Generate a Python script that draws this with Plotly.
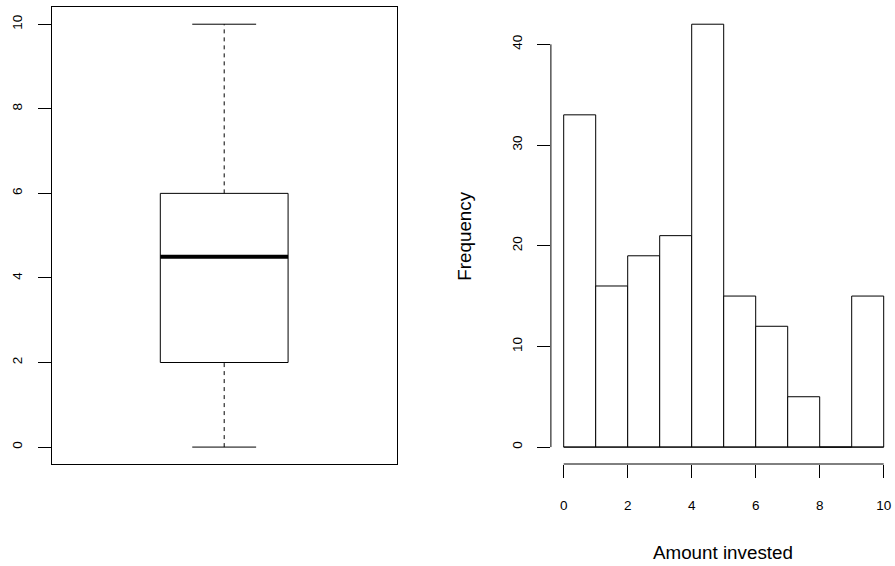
import plotly.graph_objects as go

# ---- data ----
box_min = 0
box_q1 = 2
box_median = 4.5
box_q3 = 6
box_max = 10
box_yticks = [0, 2, 4, 6, 8, 10]

hist_edges = [0, 1, 2, 3, 4, 5, 6, 7, 8, 9, 10]
hist_counts = [33, 16, 19, 21, 42, 15, 12, 5, 0, 15]
hist_xticks = [0, 2, 4, 6, 8, 10]
hist_yticks = [0, 10, 20, 30, 40]
x_title = "Amount invested"
y_title = "Frequency"

# ---- layout geometry (pixels) ----
W, H = 895, 566
FONT = "Liberation Sans, Arial, Helvetica, sans-serif"
TICK_FS = 13.5
TITLE_FS = 18.8
plot_top, plot_bottom = 7.3, 464.0
left_x0, left_x1 = 51.7, 396.7
right_x0 = 550.9
px_per_unit_x = 32.0

ydom = [1 - plot_bottom / H, 1 - plot_top / H]

centers = [(a + b) / 2 for a, b in zip(hist_edges[:-1], hist_edges[1:])]
widths = [b - a for a, b in zip(hist_edges[:-1], hist_edges[1:])]
ymax = max(hist_counts)
ypad = ymax * 0.04
xlo, xhi = hist_edges[0], hist_edges[-1]
xpad = (xhi - xlo) * 0.04

fig = go.Figure()

# ---- boxplot (left) ----
c, hw, sw = 1.0, 0.2, 0.1
line_black = dict(color="black", width=1)
fig.add_trace(go.Scatter(
    x=[c - hw, c + hw, c + hw, c - hw, c - hw],
    y=[box_q1, box_q1, box_q3, box_q3, box_q1],
    mode="lines", line=line_black, xaxis="x", yaxis="y",
    hoverinfo="skip", showlegend=False))
fig.add_trace(go.Scatter(
    x=[c - hw, c + hw], y=[box_median, box_median],
    mode="lines", line=dict(color="black", width=4),
    xaxis="x", yaxis="y", hoverinfo="skip", showlegend=False))
fig.add_trace(go.Scatter(
    x=[c, c, None, c, c], y=[box_q3, box_max, None, box_min, box_q1],
    mode="lines", line=dict(color="black", width=1, dash="4px,4px"),
    xaxis="x", yaxis="y", hoverinfo="skip", showlegend=False))
fig.add_trace(go.Scatter(
    x=[c - sw, c + sw, None, c - sw, c + sw],
    y=[box_max, box_max, None, box_min, box_min],
    mode="lines", line=line_black, xaxis="x", yaxis="y",
    hoverinfo="skip", showlegend=False))

# ---- histogram (right) ----
fig.add_trace(go.Bar(
    x=centers, y=hist_counts, width=widths,
    marker=dict(color="white", line=dict(color="black", width=1)),
    xaxis="x2", yaxis="y2", hoverinfo="skip", showlegend=False))
fig.add_trace(go.Scatter(
    x=[hist_edges[0], hist_edges[-1]], y=[0, 0],
    mode="lines", line=line_black, xaxis="x2", yaxis="y2",
    hoverinfo="skip", showlegend=False))

tickfont = dict(family=FONT, size=TICK_FS, color="black")

fig.update_layout(
    width=W, height=H,
    margin=dict(l=0, r=0, t=0, b=0),
    paper_bgcolor="white", plot_bgcolor="white",
    showlegend=False,
    bargap=0,
    xaxis=dict(domain=[left_x0 / W, left_x1 / W], range=[0.46, 1.54],
               showticklabels=False, ticks="", showgrid=False, zeroline=False,
               showline=True, linecolor="black", linewidth=1, mirror=True,
               fixedrange=True),
    yaxis=dict(domain=ydom, range=[-0.4, 10.4], tickvals=box_yticks,
               ticktext=[str(v) for v in box_yticks],
               ticks="outside", ticklen=13, tickwidth=1, tickcolor="black",
               tickangle=-90, tickfont=tickfont, ticklabelstandoff=10,
               showgrid=False, zeroline=False,
               showline=True, linecolor="black", linewidth=1, mirror=True),
    xaxis2=dict(domain=[right_x0 / W, 1.0],
                range=[xlo - xpad, xlo - xpad + (W - right_x0) / px_per_unit_x],
                tickvals=hist_xticks, ticktext=[str(v) for v in hist_xticks],
                ticks="outside", ticklen=12.7, tickwidth=1, tickcolor="black",
                tickfont=tickfont, ticklabelstandoff=16,
                showgrid=False, zeroline=False, showline=False, anchor="y2"),
    yaxis2=dict(domain=ydom, range=[-ypad, ymax + ypad],
                tickvals=hist_yticks, ticktext=[str(v) for v in hist_yticks],
                ticks="outside", ticklen=12.7, tickwidth=1, tickcolor="black",
                tickangle=-90, tickfont=tickfont, ticklabelstandoff=10,
                showgrid=False, zeroline=False, showline=False, anchor="x2"),
    shapes=[
        dict(type="line", xref="x2", yref="y2 domain",
             x0=hist_xticks[0], x1=hist_xticks[-1], y0=0, y1=0,
             line=dict(color="black", width=1)),
        dict(type="line", xref="x2 domain", yref="y2",
             x0=0, x1=0, y0=hist_yticks[0], y1=hist_yticks[-1],
             line=dict(color="black", width=1)),
    ],
    annotations=[
        dict(text=x_title, xref="paper", yref="paper",
             x=(right_x0 + W) / 2 / W, y=1 - 552.7 / H,
             xanchor="center", yanchor="middle", showarrow=False,
             font=dict(family=FONT, size=TITLE_FS, color="black")),
        dict(text=y_title, xref="paper", yref="paper",
             x=465 / W, y=1 - (plot_top + plot_bottom) / 2 / H,
             xanchor="center", yanchor="middle", showarrow=False,
             textangle=-90,
             font=dict(family=FONT, size=TITLE_FS, color="black")),
    ],
)

fig.write_html(
    "out.html",
    config={"displayModeBar": False, "staticPlot": True},
    post_script="document.body.style.margin='0';document.body.style.overflow='hidden';",
)
